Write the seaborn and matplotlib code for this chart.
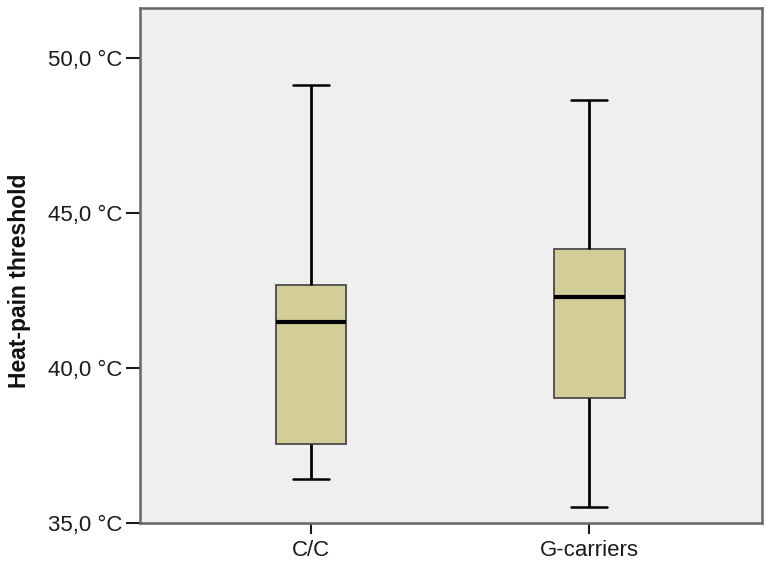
import numpy as np
import pandas as pd
import matplotlib
matplotlib.use("Agg")
import matplotlib.pyplot as plt
import seaborn as sns
from matplotlib.ticker import FuncFormatter

# five-number summaries (min, Q1, median, Q3, max)
groups = ["C/C", "G-carriers"]
cc_values = [36.42, 37.56, 41.47, 42.67, 49.13]
g_values = [35.53, 39.02, 42.28, 43.85, 48.65]
y_ticks = [35, 40, 45, 50]

df = pd.DataFrame({
    "group": [groups[0]] * len(cc_values) + [groups[1]] * len(g_values),
    "threshold": cc_values + g_values,
})

sns.set_style("white")
plt.rcParams["font.family"] = ["Liberation Sans", "DejaVu Sans"]

fig = plt.figure(figsize=(7.68, 5.67), dpi=100)
ax = fig.add_axes([140 / 768, 44 / 567, 622 / 768, 515 / 567])
ax.set_facecolor("#efefef")

sns.boxplot(
    data=df, x="group", y="threshold", order=groups,
    whis=(0, 100), width=0.255, color="#d3ce98", saturation=1,
    linecolor="#4a4a4a", linewidth=1.3, ax=ax,
    medianprops=dict(color="black", linewidth=3),
    whiskerprops=dict(color="black", linewidth=2),
    capprops=dict(color="black", linewidth=1.8),
)

ax.set_xlim(-0.615, 1.622)
ax.set_ylim(35, 35 + 515 / 31)
ax.set_yticks(y_ticks)
ax.yaxis.set_major_formatter(FuncFormatter(lambda v, p: f"{v:.1f}".replace(".", ",") + " °C"))

ax.set_xlabel("")
ax.set_ylabel("Heat-pain threshold", fontsize=16.5, fontweight="bold", color="#111111")
ax.yaxis.set_label_coords(-0.176, 0.47)
ax.tick_params(axis="both", labelsize=16, colors="#1a1a1a", length=8, width=1.5,
               direction="out", left=True, bottom=True)
ax.tick_params(axis="y", length=10, pad=3)
ax.tick_params(axis="x", pad=4)
for tick in ax.get_xticklines() + ax.get_yticklines():
    tick.set_color("#555555")
for sp in ax.spines.values():
    sp.set_color("#666666")
    sp.set_linewidth(1.8)
    sp.set_visible(True)

fig.savefig("out.png", dpi=100)
